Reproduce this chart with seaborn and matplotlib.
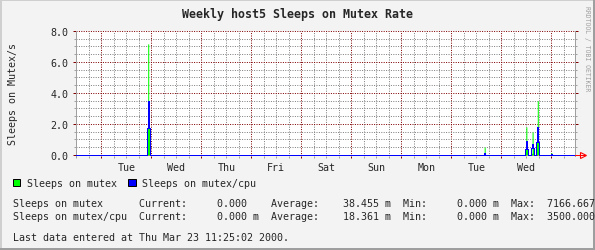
import numpy as np
import pandas as pd
import matplotlib
matplotlib.use("Agg")
import matplotlib.pyplot as plt
import seaborn as sns
from matplotlib.patches import Rectangle
from matplotlib.ticker import (FixedLocator, FuncFormatter,
                               NullFormatter, FormatStrFormatter)

# ---------------- data ----------------
title = "Weekly host5 Sleeps on Mutex Rate"
y_label = "Sleeps on Mutex/s"
side_note = "RRDTOOL / TOBI OETIKER"
day_labels = ["Tue", "Wed", "Thu", "Fri", "Sat", "Sun", "Mon", "Tue", "Wed"]

# time in hours since the first Tuesday 00:00
window_start = -12.3
window_end = 227.5
first_sample = -12.0
last_sample = 227.5
step_hours = 0.5

spike_hours = [22.0, 22.5, 23.0, 184.0, 203.5, 204.0, 204.5,
               206.5, 207.0, 207.5, 209.0, 209.5, 210.0, 216.0]
mutex_vals = [1.75, 7.17, 1.75, 0.50, 0.40, 1.80, 0.40,
              0.10, 1.48, 0.45, 0.86, 3.50, 0.86, 0.15]
cpu_vals = [1.75, 3.50, 1.75, 0.12, 0.40, 0.90, 0.40,
            0.45, 0.70, 0.45, 0.86, 1.80, 0.86, 0.08]

legend_names = ["Sleeps on mutex", "Sleeps on mutex/cpu"]
stat_current = ["0.000", "0.000 m"]
stat_average = ["38.455 m", "18.361 m"]
stat_min = ["0.000 m", "0.000 m"]
stat_max = ["7166.667", "3500.000"]
last_update = "Last data entered at Thu Mar 23 11:25:02 2000."

# ---------------- styling ----------------
W, H = 595, 251
BG = "#f3f3f3"
GREEN = "#00ff00"
BLUE = "#0000ff"
MGRID = "#800000"
GRID = "#808080"
AXIS = "#a0a0a0"
MONO = "DejaVu Sans Mono"

sns.set_style("white")
plt.rcParams["font.family"] = [MONO, "DejaVu Sans"]

sample_hours = np.arange(first_sample, last_sample, step_hours)
mutex = pd.Series(0.0, index=sample_hours)
cpu = pd.Series(0.0, index=sample_hours)
mutex.loc[spike_hours] = mutex_vals
cpu.loc[spike_hours] = cpu_vals
df = pd.DataFrame({"hour": sample_hours, "mutex": mutex.values, "cpu": cpu.values})

fig = plt.figure(figsize=(W / 100, H / 100), dpi=100)
fig.patch.set_facecolor(BG)


def fx(x):
    return x / W


def fy(y):
    return 1 - y / H


ax = fig.add_axes([75.7 / W, (H - 156.8) / H, 499.6 / W, 124.8 / H])
ax.set_facecolor("white")

ax.fill_between(df["hour"], 0, df["mutex"], step="mid", color=GREEN,
                linewidth=0, antialiased=False, zorder=2)
sns.lineplot(data=df, x="hour", y="cpu", ax=ax, color=BLUE, linewidth=0.72,
             drawstyle="steps-mid", estimator=None, antialiased=False, zorder=3,
             clip_on=False)

ax.set_xlim(window_start, window_end)
ax.set_ylim(-0.06, 8)
ax.set_xlabel("")
ax.set_ylabel("")

x_major = [h for h in range(0, 228, 24)]
x_minor = [h for h in range(-12, 228, 6) if h % 24 != 0]
y_major = [0, 2, 4, 6, 8]
y_minor = [v / 2 for v in range(0, 17) if v % 4 != 0]

ax.xaxis.set_major_locator(FixedLocator(x_major))
ax.xaxis.set_minor_locator(FixedLocator(x_minor))
ax.xaxis.set_major_formatter(NullFormatter())


def day_fmt(x, pos):
    r = (x - 12) / 24
    i = int(round(r))
    if abs(r - i) < 1e-6 and 0 <= i < len(day_labels):
        return day_labels[i]
    return ""


ax.xaxis.set_minor_formatter(FuncFormatter(day_fmt))
ax.yaxis.set_major_locator(FixedLocator(y_major))
ax.yaxis.set_minor_locator(FixedLocator(y_minor))
ax.yaxis.set_major_formatter(FormatStrFormatter("%.1f"))

ax.set_axisbelow(True)
ax.grid(which="minor", color=GRID, linestyle=(0, (1, 1.4)), linewidth=0.72,
        zorder=0.5)
ax.grid(which="major", color=MGRID, linestyle=(0, (1, 1.4)), linewidth=0.72,
        zorder=0.6)

ax.tick_params(axis="y", which="major", left=True, right=True, direction="out",
               length=2.2, width=0.72, color=MGRID, labelsize=7.18, pad=3.2)
ax.tick_params(axis="y", which="minor", left=True, right=True, direction="out",
               length=1.4, width=0.72, color=AXIS)
ax.tick_params(axis="x", which="major", bottom=True, direction="out",
               length=1.6, width=0.72, color=MGRID)
ax.tick_params(axis="x", which="minor", bottom=True, direction="out",
               length=1.6, width=0.72, color=AXIS, labelsize=7.18, pad=3.2)
for lab in ax.get_yticklabels() + ax.get_xticklabels(minor=True):
    lab.set_fontfamily(MONO)

for s in ["top", "bottom"]:
    ax.spines[s].set_visible(False)
for s in ["left", "right"]:
    ax.spines[s].set_color(AXIS)
    ax.spines[s].set_linewidth(0.72)

# axis arrow at the end of the time axis
ax.plot([1.0, 1.0 + 10 / 499.6], [0, 0], color="red",
        transform=ax.get_yaxis_transform(), lw=0.72, clip_on=False, zorder=4)
ax.plot([1.0 + 7.5 / 499.6], [0], transform=ax.get_yaxis_transform(), marker=">",
        ms=4.5, mfc="none", mec="red", mew=0.8, clip_on=False, zorder=4)

# titles
fig.text(fx(297.7), fy(15), title, ha="center", va="center", family=MONO,
         weight="bold", size=8.37)
fig.text(fx(12.5), fy(94.2), y_label, rotation=90, ha="center", va="center",
         family=MONO, size=7.18)
fig.text(fx(587.5), fy(48.3), side_note, rotation=270, ha="center", va="center",
         family=MONO, size=4.7, color="#a0a0a0")

# legend
for (x0, col, name, tx) in [(12.5, GREEN, legend_names[0], 26.6),
                            (128.0, BLUE, legend_names[1], 141.6)]:
    fig.add_artist(Rectangle((fx(x0), fy(187.3)), 7.5 / W, 7.3 / H,
                             transform=fig.transFigure, facecolor=col,
                             edgecolor="black", lw=0.72))
    fig.text(fx(tx), fy(183.7), name, ha="left", va="center", family=MONO, size=7.18)

# statistics
for i, yy in enumerate([204.3, 217.3]):
    row = (legend_names[i].ljust(21) + "Current:" + " " * 5 + stat_current[i].ljust(9)
           + "Average:" + " " * 4 + stat_average[i].ljust(10) + "Min:" + " " * 5
           + stat_min[i].ljust(9) + "Max:" + " " * 2 + stat_max[i])
    fig.text(fx(12.5), fy(yy), row, ha="left", va="center", family=MONO, size=7.18)

fig.text(fx(12.5), fy(237.7), last_update, ha="left", va="center", family=MONO, size=7.18)

# 3D frame
for (x0, y0, w, h, c) in [(0, 0, W, 2, "#cfcfcf"), (0, 0, 2, H, "#cfcfcf"),
                          (0, H - 2, W, 2, "#9e9e9e"), (W - 2, 0, 2, H, "#9e9e9e")]:
    fig.add_artist(Rectangle((fx(x0), fy(y0 + h)), w / W, h / H,
                             transform=fig.transFigure, facecolor=c, lw=0))

fig.savefig("out.png", dpi=100, facecolor=fig.get_facecolor())
